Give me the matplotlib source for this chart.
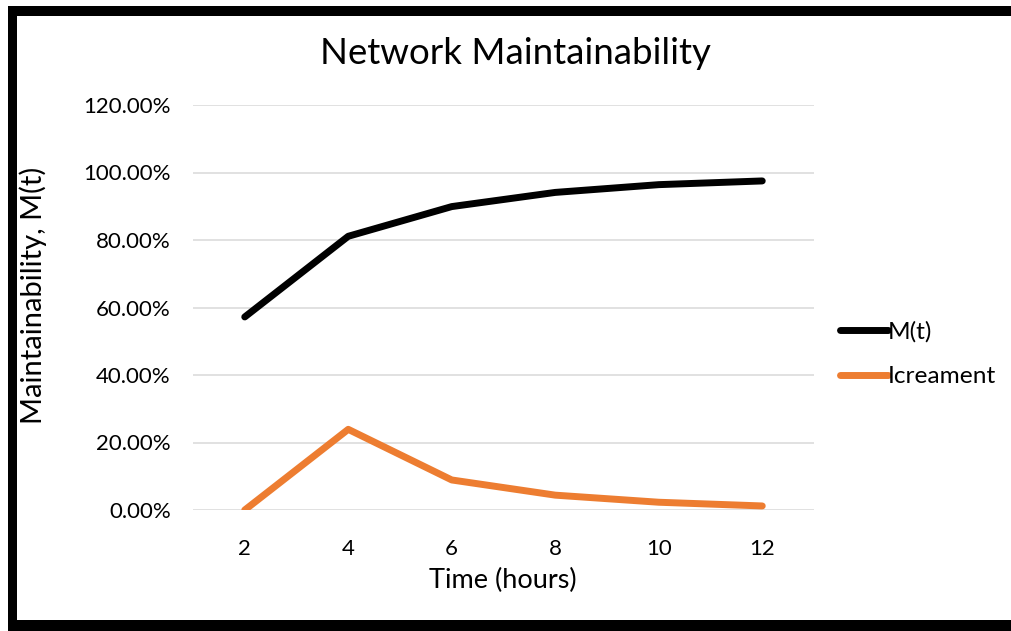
import matplotlib
matplotlib.use("Agg")
import matplotlib.pyplot as plt
from matplotlib.patches import Rectangle
from matplotlib.ticker import FuncFormatter

hours = [2, 4, 6, 8, 10, 12]
m_t = [0.572, 0.811, 0.899, 0.941, 0.964, 0.975]
increment = [0.0, 0.239, 0.089, 0.044, 0.023, 0.012]
y_ticks = [0.0, 0.2, 0.4, 0.6, 0.8, 1.0, 1.2]

plt.rcParams['font.family'] = ['Lato', 'DejaVu Sans']

W, H = 1012, 631
fig = plt.figure(figsize=(W / 100, H / 100), dpi=100)
fig.patch.set_facecolor('white')

# black frame (top, left, bottom)
fig.patches.append(Rectangle((8 / W, 1 - 16 / H), 1 - 8 / W, 10 / H, transform=fig.transFigure,
                             facecolor='black', edgecolor='none'))
fig.patches.append(Rectangle((8 / W, 0), 9 / W, 1 - 6 / H, transform=fig.transFigure,
                             facecolor='black', edgecolor='none'))
fig.patches.append(Rectangle((8 / W, 0), 1 - 8 / W, 11 / H, transform=fig.transFigure,
                             facecolor='black', edgecolor='none'))

ax = fig.add_axes([193 / W, 1 - 510 / H, (814 - 193) / W, (510 - 105) / H])
ax.plot(hours, m_t, color='black', lw=5, solid_capstyle='round', solid_joinstyle='round', label='M(t)')
ax.plot(hours, increment, color='#ED7D31', lw=5, solid_capstyle='round', solid_joinstyle='round',
        label='Icreament')

ax.set_xlim(1, 13)
ax.set_ylim(0, 1.2)
ax.set_xticks(hours)
ax.set_yticks(y_ticks)
ax.yaxis.set_major_formatter(FuncFormatter(lambda v, p: f"{v * 100:.2f}%"))
ax.tick_params(length=0, labelsize=16, colors='black')
ax.tick_params(axis='y', pad=16)
ax.tick_params(axis='x', pad=21)
for s in ax.spines.values():
    s.set_visible(False)
ax.grid(axis='y', color='#D9D9D9', lw=1.1)
ax.set_axisbelow(True)

fig.text((318 + 712) / 2 / W, 1 - 54 / H, 'Network Maintainability', fontsize=26.4,
         ha='center', va='center', color='black')
ax.set_xlabel('Time (hours)', fontsize=19.5)
ax.xaxis.set_label_coords((503 - 193) / (814 - 193), -(580 - 510) / (510 - 105))
ax.xaxis.label.set_va('center')
ax.set_ylabel('Maintainability, M(t)', fontsize=21)
ax.yaxis.set_label_coords(-(193 - 33) / (814 - 193), (510 - 295) / (510 - 105))
ax.yaxis.label.set_va('center')

leg = ax.legend(loc='upper left', bbox_to_anchor=(1.0425, 0.466), frameon=False, fontsize=17.6,
                handlelength=1.95, handletextpad=0.0, labelspacing=0.95, borderpad=0, borderaxespad=0)

fig.savefig('out.png', dpi=100, facecolor='white')
